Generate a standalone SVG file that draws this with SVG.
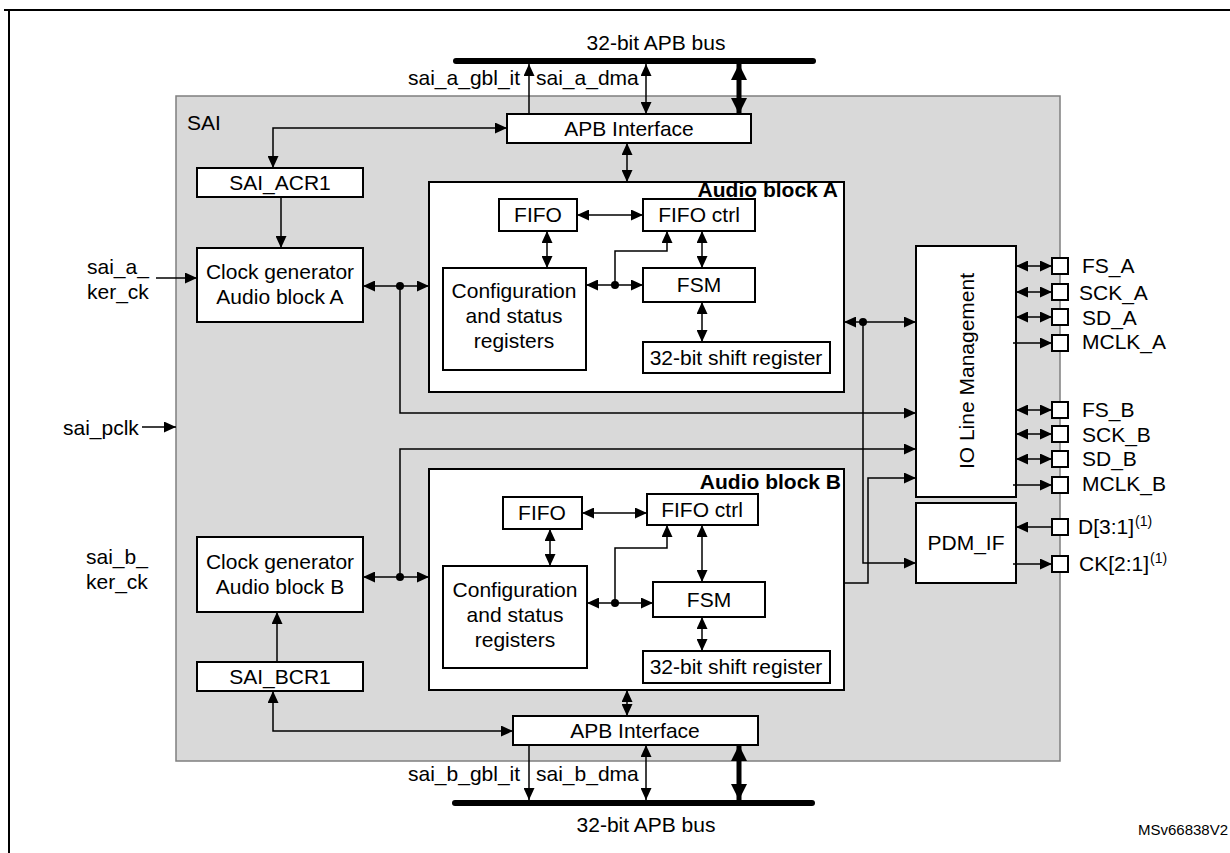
<svg xmlns="http://www.w3.org/2000/svg" width="1230" height="853" viewBox="0 0 1230 853">
<defs>
<style>
.ln{fill:none;stroke:#000;stroke-width:1.5}
.th{fill:none;stroke:#000;stroke-width:5}
.bx{fill:#fff;stroke:#000;stroke-width:2}
.t{font-family:"Liberation Sans",Arial,sans-serif;font-size:21px;fill:#000}
.c{text-anchor:middle}
.bd{font-weight:bold}
.sm{font-size:14px}
.e{marker-end:url(#a)}
.b{marker-start:url(#a);marker-end:url(#a)}
.bb{marker-start:url(#ab);marker-end:url(#ab)}
.dot{fill:#000}
.bus{stroke:#000;stroke-width:6;stroke-linecap:round}
</style>
<marker id="a" viewBox="0 0 12 11" markerWidth="12" markerHeight="11" refX="12" refY="5.5" orient="auto-start-reverse" markerUnits="userSpaceOnUse"><path d="M0,0 L12,5.5 L0,11 z" fill="#000"/></marker>
<marker id="ab" viewBox="0 0 16 16" markerWidth="16" markerHeight="16" refX="16" refY="8" orient="auto-start-reverse" markerUnits="userSpaceOnUse"><path d="M0,0 L16,8 L0,16 z" fill="#000"/></marker>
</defs>
<rect x="0" y="0" width="1230" height="853" fill="#fff"/>
<g id="frame">
<path d="M4,10 H1230 M9,10 V853" fill="none" stroke="#000" stroke-width="2"/>
</g>
<g id="sai">
<rect x="176" y="96" width="884" height="665" fill="#d9d9d9" stroke="#7f7f7f" stroke-width="1.5"/>
<text class="t" x="187" y="130">SAI</text>
</g>
<g id="bus-top">
<line class="bus" x1="456" y1="61" x2="813" y2="61"/>
<text class="t c" x="656" y="50">32-bit APB bus</text>
</g>
<g id="bus-bottom">
<line class="bus" x1="455" y1="803" x2="812" y2="803"/>
<text class="t c" x="646" y="832">32-bit APB bus</text>
</g>
<g id="signal-labels">
<text class="t" x="408" y="85">sai_a_gbl_it</text>
<text class="t" x="536" y="85">sai_a_dma</text>
<text class="t" x="408" y="781">sai_b_gbl_it</text>
<text class="t" x="536" y="781">sai_b_dma</text>
<text class="t" x="87" y="274">sai_a_</text>
<text class="t" x="87" y="299">ker_ck</text>
<text class="t" x="86" y="564">sai_b_</text>
<text class="t" x="86" y="589">ker_ck</text>
<text class="t" x="63" y="435">sai_pclk</text>
<text class="t" x="1138" y="835" style="font-size:15px">MSv66838V2</text>
</g>
<g id="apb-a">
<rect class="bx" x="507" y="114" width="244" height="29"/>
<text class="t c" x="629" y="136">APB Interface</text>
</g>
<g id="apb-b">
<rect class="bx" x="513" y="716" width="245" height="29"/>
<text class="t c" x="635" y="738">APB Interface</text>
</g>
<g id="sai-acr1">
<rect class="bx" x="197" y="168" width="166" height="29"/>
<text class="t c" x="280" y="190">SAI_ACR1</text>
</g>
<g id="sai-bcr1">
<rect class="bx" x="197" y="662" width="166" height="29"/>
<text class="t c" x="280" y="684">SAI_BCR1</text>
</g>
<g id="clk-a">
<rect class="bx" x="197" y="248" width="166" height="74"/>
<text class="t c" x="280" y="279">Clock generator</text>
<text class="t c" x="280" y="304">Audio block A</text>
</g>
<g id="clk-b">
<rect class="bx" x="197" y="537" width="166" height="75"/>
<text class="t c" x="280" y="569">Clock generator</text>
<text class="t c" x="280" y="594">Audio block B</text>
</g>
<g id="audio-a">
<rect class="bx" x="429" y="182" width="415" height="210"/>
<text class="t bd" x="838" y="197" text-anchor="end">Audio block A</text>
</g>
<g id="fifo-a">
<rect class="bx" x="499" y="199" width="78" height="32"/>
<text class="t c" x="538" y="222">FIFO</text>
</g>
<g id="fifoctrl-a">
<rect class="bx" x="643" y="199" width="112" height="32"/>
<text class="t c" x="699" y="222">FIFO ctrl</text>
</g>
<g id="cfg-a">
<rect class="bx" x="443" y="268" width="143" height="102"/>
<text class="t c" x="514" y="298">Configuration</text>
<text class="t c" x="514" y="323">and status</text>
<text class="t c" x="514" y="348">registers</text>
</g>
<g id="fsm-a">
<rect class="bx" x="643" y="268" width="112" height="34"/>
<text class="t c" x="699" y="292">FSM</text>
</g>
<g id="shift-a">
<rect class="bx" x="643" y="342" width="187" height="31"/>
<text class="t c" x="736" y="365">32-bit shift register</text>
</g>
<g id="audio-b">
<rect class="bx" x="429" y="469" width="415" height="221"/>
<text class="t bd" x="841" y="489" text-anchor="end">Audio block B</text>
</g>
<g id="fifo-b">
<rect class="bx" x="503" y="497" width="79" height="32"/>
<text class="t c" x="542" y="520">FIFO</text>
</g>
<g id="fifoctrl-b">
<rect class="bx" x="647" y="494" width="111" height="31"/>
<text class="t c" x="702" y="517">FIFO ctrl</text>
</g>
<g id="cfg-b">
<rect class="bx" x="443" y="566" width="144" height="102"/>
<text class="t c" x="515" y="597">Configuration</text>
<text class="t c" x="515" y="622">and status</text>
<text class="t c" x="515" y="647">registers</text>
</g>
<g id="fsm-b">
<rect class="bx" x="653" y="582" width="112" height="35"/>
<text class="t c" x="709" y="607">FSM</text>
</g>
<g id="shift-b">
<rect class="bx" x="643" y="651" width="187" height="32"/>
<text class="t c" x="736" y="674">32-bit shift register</text>
</g>
<g id="io-line">
<rect class="bx" x="916" y="246" width="100" height="251"/>
<text class="t c" x="966" y="378.5" transform="rotate(-90 966 371)">IO Line Management</text>
</g>
<g id="pdm-if">
<rect class="bx" x="916" y="503" width="100" height="80"/>
<text class="t c" x="966" y="550">PDM_IF</text>
</g>
<g id="connectors">
<line class="ln e" x1="529" y1="114" x2="529" y2="64"/>
<line class="ln b" x1="646" y1="64" x2="646" y2="114"/>
<line class="th bb" x1="739" y1="64" x2="739" y2="114"/>
<path class="ln b" d="M507,128 H273 V168"/>
<line class="ln b" x1="627" y1="143" x2="627" y2="182"/>
<line class="ln e" x1="281" y1="197" x2="281" y2="248"/>
<line class="ln e" x1="156" y1="278" x2="197" y2="278"/>
<line class="ln e" x1="142" y1="427" x2="176" y2="427"/>
<line class="ln b" x1="363" y1="286" x2="429" y2="286"/>
<path class="ln e" d="M400,286 V413 H916"/>
<line class="ln b" x1="577" y1="215" x2="643" y2="215"/>
<line class="ln b" x1="547" y1="231" x2="547" y2="268"/>
<line class="ln b" x1="702" y1="231" x2="702" y2="268"/>
<line class="ln b" x1="586" y1="285" x2="643" y2="285"/>
<path class="ln e" d="M615,285 V251 H667 V231"/>
<line class="ln b" x1="702" y1="302" x2="702" y2="342"/>
<line class="ln b" x1="844" y1="322" x2="916" y2="322"/>
<path class="ln e" d="M863,322 V563 H916"/>
<path class="ln e" d="M400,577 V449 H916"/>
<line class="ln b" x1="363" y1="577" x2="429" y2="577"/>
<path class="ln e" d="M844,583 H868 V478 H916"/>
<line class="ln b" x1="582" y1="513" x2="647" y2="513"/>
<line class="ln b" x1="550" y1="529" x2="550" y2="566"/>
<line class="ln b" x1="702" y1="525" x2="702" y2="582"/>
<line class="ln b" x1="587" y1="603" x2="653" y2="603"/>
<path class="ln e" d="M615,603 V548 H667 V525"/>
<line class="ln b" x1="702" y1="617" x2="702" y2="651"/>
<line class="ln e" x1="277" y1="662" x2="277" y2="612"/>
<path class="ln b" d="M513,731 H273 V691"/>
<line class="ln b" x1="627" y1="690" x2="627" y2="716"/>
<line class="ln e" x1="529" y1="745" x2="529" y2="800"/>
<line class="ln b" x1="646" y1="745" x2="646" y2="800"/>
<line class="th bb" x1="739" y1="745" x2="739" y2="800"/>
<line class="ln b" x1="1016" y1="266" x2="1052" y2="266"/>
<line class="ln b" x1="1016" y1="292" x2="1052" y2="292"/>
<line class="ln b" x1="1016" y1="317" x2="1052" y2="317"/>
<line class="ln e" x1="1013" y1="343" x2="1052" y2="343"/>
<line class="ln b" x1="1016" y1="410" x2="1052" y2="410"/>
<line class="ln b" x1="1016" y1="434" x2="1052" y2="434"/>
<line class="ln b" x1="1016" y1="459" x2="1052" y2="459"/>
<line class="ln e" x1="1013" y1="485" x2="1052" y2="485"/>
<line class="ln e" x1="1052" y1="527" x2="1016" y2="527"/>
<line class="ln e" x1="1013" y1="564" x2="1052" y2="564"/>
<circle class="dot" cx="400" cy="286" r="4"/>
<circle class="dot" cx="615" cy="285" r="4"/>
<circle class="dot" cx="863" cy="322" r="4"/>
<circle class="dot" cx="400" cy="577" r="4"/>
<circle class="dot" cx="615" cy="603" r="4"/>
</g>
<g id="pins">
<g fill="#fff" stroke="#000" stroke-width="2">
<rect x="1052" y="258" width="16" height="16"/>
<rect x="1052" y="284" width="16" height="16"/>
<rect x="1052" y="309" width="16" height="16"/>
<rect x="1052" y="335" width="16" height="16"/>
<rect x="1052" y="402" width="16" height="16"/>
<rect x="1052" y="426" width="16" height="16"/>
<rect x="1052" y="451" width="16" height="16"/>
<rect x="1052" y="477" width="16" height="16"/>
<rect x="1052" y="519" width="16" height="16"/>
<rect x="1052" y="556" width="16" height="16"/>
</g>
<text class="t" x="1082" y="273">FS_A</text>
<text class="t" x="1079" y="300">SCK_A</text>
<text class="t" x="1082" y="325">SD_A</text>
<text class="t" x="1082" y="349">MCLK_A</text>
<text class="t" x="1082" y="417">FS_B</text>
<text class="t" x="1082" y="442">SCK_B</text>
<text class="t" x="1082" y="466">SD_B</text>
<text class="t" x="1082" y="491">MCLK_B</text>
<text class="t" x="1078" y="534">D[3:1]</text>
<text class="t sm" x="1135" y="526">(1)</text>
<text class="t" x="1079" y="571">CK[2:1]</text>
<text class="t sm" x="1150" y="563">(1)</text>
</g>
</svg>
